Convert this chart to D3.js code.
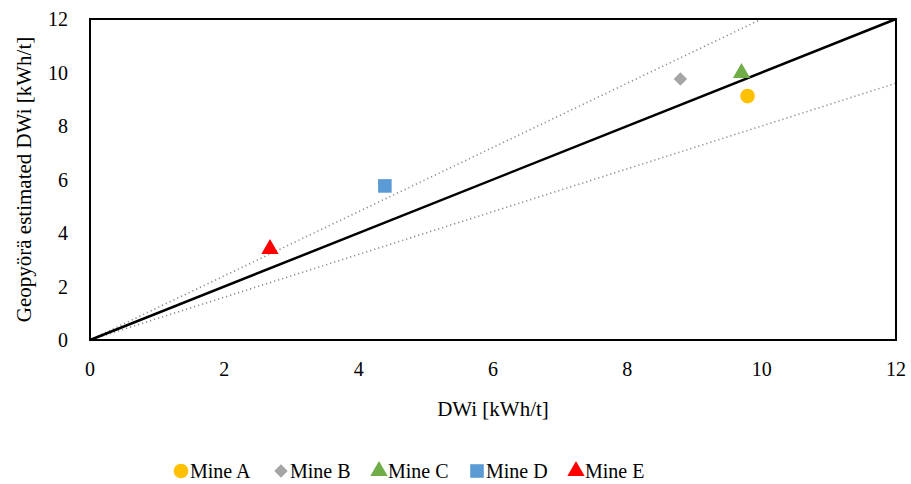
<!DOCTYPE html>
<html><head><meta charset="utf-8"><script src="https://cdn.jsdelivr.net/npm/d3@7"></script></head>
<body style="margin:0">
<script>
// data
var mines = ["Mine A", "Mine B", "Mine C", "Mine D", "Mine E"];
var dwiMeasured = [9.79, 8.79, 9.70, 4.39, 2.68];
var dwiEstimated = [9.12, 9.76, 9.98, 5.76, 3.40];
var colors = ["#ffc000", "#a5a5a5", "#70ad47", "#5b9bd5", "#ff0000"];
var shapes = ["circle", "diamond", "triangle", "square", "triangle"];
var ticks = [0, 2, 4, 6, 8, 10, 12];
var bandFactors = [1.2, 0.8];

var FONT = "Liberation Serif, Times New Roman, serif";
var W = 911, H = 484;
var margin = {top: 19, right: 15, bottom: 144, left: 90};
var width = W - margin.left - margin.right,
    height = H - margin.top - margin.bottom;

var svg = d3.select("body").append("svg").attr("width", W).attr("height", H);

var g = svg.append("g")
  .attr("transform", "translate(" + margin.left + "," + margin.top + ")");

var x = d3.scaleLinear().domain([0, 12]).range([0, width]);
var y = d3.scaleLinear().domain([0, 12]).range([height, 0]);

// tick labels straight from the scales
g.selectAll(".xlab").data(ticks).enter().append("text")
  .attr("font-family", FONT).attr("font-size", 20)
  .attr("x", function(d) { return x(d); })
  .attr("y", height + 36)
  .attr("text-anchor", "middle")
  .text(function(d) { return x.tickFormat()(d); });
g.selectAll(".ylab").data(ticks).enter().append("text")
  .attr("font-family", FONT).attr("font-size", 20)
  .attr("x", -22)
  .attr("y", function(d) { return y(d) + 7; })
  .attr("text-anchor", "end")
  .text(function(d) { return y.tickFormat()(d); });

// dotted ±20% lines, stopped at the frame
bandFactors.forEach(function(f) {
  var xEnd = Math.min(12, 12 / f);
  g.append("line")
    .attr("x1", x(0)).attr("y1", y(0))
    .attr("x2", x(xEnd)).attr("y2", y(xEnd * f))
    .attr("stroke", "#8c8c8c").attr("stroke-width", 1.6)
    .attr("stroke-dasharray", "1.2 3");
});
// 1:1 line
g.append("line")
  .attr("x1", x(0)).attr("y1", y(0))
  .attr("x2", x(12)).attr("y2", y(12))
  .attr("stroke", "#000").attr("stroke-width", 2.5);

// frame
g.append("rect").attr("width", width).attr("height", height)
  .attr("fill", "none").attr("stroke", "#000").attr("stroke-width", 2);

function symbolFor(s) {
  if (s == "circle") return d3.symbol().type(d3.symbolCircle).size(170)();
  if (s == "diamond") return d3.symbol().type(d3.symbolSquare).size(90)();
  if (s == "square") return d3.symbol().type(d3.symbolSquare).size(185)();
  return d3.symbol().type(d3.symbolTriangle).size(130)();
}

function placeMark(sel, s, px, py) {
  var t = "translate(" + px + "," + py + ")";
  if (s == "diamond") t += " rotate(45)";
  return sel.append("path").attr("d", symbolFor(s)).attr("transform", t);
}

// points
for (var i = 0; i < mines.length; i++) {
  placeMark(g, shapes[i], x(dwiMeasured[i]), y(dwiEstimated[i]))
    .attr("fill", colors[i]);
}

// axis titles
svg.append("text")
  .attr("font-family", FONT).attr("font-size", 21)
  .attr("x", margin.left + width / 2).attr("y", 416)
  .attr("text-anchor", "middle")
  .text("DWi [kWh/t]");
svg.append("text")
  .attr("font-family", FONT).attr("font-size", 21)
  .attr("transform", "translate(31," + (margin.top + height / 2) + ") rotate(-90)")
  .attr("text-anchor", "middle")
  .text("Geopyörä estimated DWi [kWh/t]");

// legend
var legX = [181, 281, 379, 477, 576];
for (var j = 0; j < mines.length; j++) {
  placeMark(svg, shapes[j], legX[j], 471).attr("fill", colors[j]);
  svg.append("text")
    .attr("font-family", FONT).attr("font-size", 20)
    .attr("x", legX[j] + 9).attr("y", 478)
    .text(mines[j]);
}
</script></body></html>
